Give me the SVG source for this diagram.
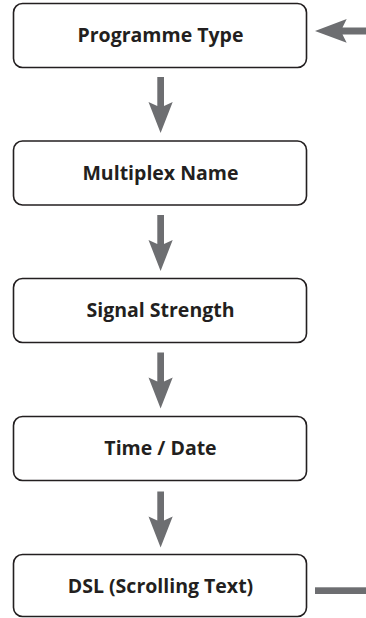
<svg xmlns="http://www.w3.org/2000/svg" width="366" height="618" viewBox="0 0 366 618">
<style>
.box{fill:#fff;stroke:#231f20;stroke-width:1.6}
.lbl{font-family:"Open Sans","Noto Sans","Liberation Sans",sans-serif;font-weight:700;font-size:19.5px;fill:#231f20;text-anchor:middle}
.arr{fill:#6d6e71;stroke:none}
</style>
<rect width="366" height="618" fill="#fff"/>
<g id="connectors">
<path class="arr" d="M157.3,77 L164,77 L164,106 L172.7,102 L160.6,133 L148.5,102 L157.3,106 Z"/>
<path class="arr" d="M157.3,215 L164,215 L164,244 L172.7,240 L160.6,271 L148.5,240 L157.3,244 Z"/>
<path class="arr" d="M157.3,352.5 L164,352.5 L164,381.5 L172.7,377.5 L160.6,408.5 L148.5,377.5 L157.3,381.5 Z"/>
<path class="arr" d="M157.3,491.5 L164,491.5 L164,520.5 L172.7,516.5 L160.6,547.5 L148.5,516.5 L157.3,520.5 Z"/>
<path class="arr" d="M366,27.5 L366,34.5 L342.5,34.5 L346.7,42.7 L315,31 L346.7,19 L342.5,27.5 Z"/>
<rect class="arr" x="315" y="587.3" width="51" height="6.7"/>
</g>
<g id="node1">
<rect class="box" x="13.5" y="3.5" width="293" height="64" rx="9"/>
<text class="lbl" x="160.5" y="42">Programme Type</text>
</g>
<g id="node2">
<rect class="box" x="13.5" y="141" width="293" height="64" rx="9"/>
<text class="lbl" x="160.5" y="179.5">Multiplex Name</text>
</g>
<g id="node3">
<rect class="box" x="13.5" y="278.5" width="293" height="64" rx="9"/>
<text class="lbl" x="160.5" y="317">Signal Strength</text>
</g>
<g id="node4">
<rect class="box" x="13.5" y="416.5" width="293" height="64" rx="9"/>
<text class="lbl" x="160.5" y="455">Time / Date</text>
</g>
<g id="node5">
<rect class="box" x="13.5" y="554.5" width="293" height="62" rx="9"/>
<text class="lbl" x="160.5" y="593">DSL (Scrolling Text)</text>
</g>
</svg>
